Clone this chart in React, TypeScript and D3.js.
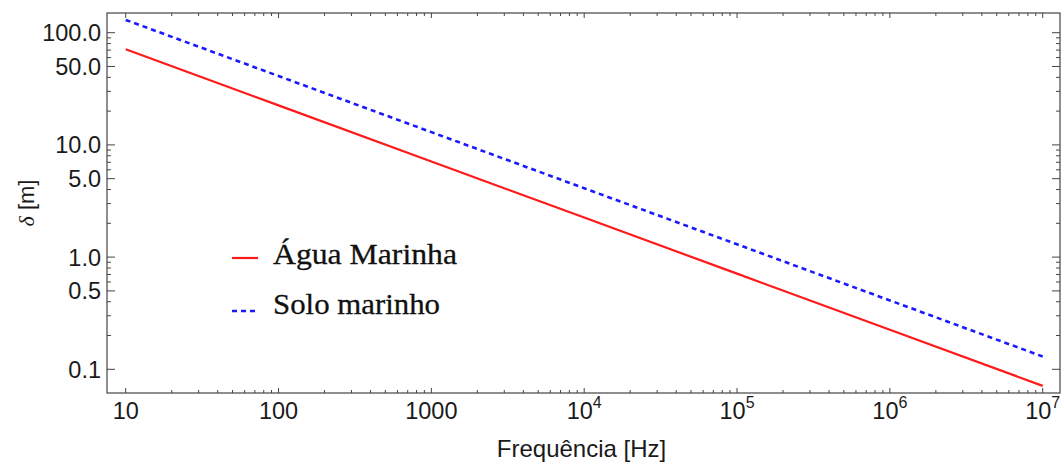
import React from "react";
import * as d3 from "d3";

const freqs = [10, 100, 1000, 1e4, 1e5, 1e6, 1e7];
const aguaMarinha = [71.2, 22.5, 7.12, 2.25, 0.712, 0.225, 0.0712];
const soloMarinho = [130, 41.1, 13.0, 4.11, 1.3, 0.411, 0.13];
const xMajor = [10, 100, 1000, 1e4, 1e5, 1e6, 1e7];
const yMajor = [100, 50, 10, 5, 1, 0.5, 0.1];
const yLabels = ["100.0", "50.0", "10.0", "5.0", "1.0", "0.5", "0.1"];
const seriesNames = ["Água Marinha", "Solo marinho"];

const W = 1064, H = 467;
const L = 107, R = 1060, T = 13, B = 393;

export default function App() {
  const x = d3.scaleLog().domain([10, 1e7]).range([125.7, 1042.7]);
  const y = d3.scaleLog().domain([100, 0.1]).range([32.7, 369.3]);

  const xMinor: number[] = [];
  for (let e = 1; e < 7; e++) for (let k = 2; k <= 9; k++) xMinor.push(k * Math.pow(10, e));
  const yMinor: number[] = [];
  for (let e = -1; e < 2; e++)
    for (let k = 2; k <= 9; k++) if (k !== 5) yMinor.push(k * Math.pow(10, e));

  const line = d3
    .line<[number, number]>()
    .x((d) => x(d[0]))
    .y((d) => y(d[1]));
  const redPts = freqs.map((f, i) => [f, aguaMarinha[i]] as [number, number]);
  const bluePts = freqs.map((f, i) => [f, soloMarinho[i]] as [number, number]);

  const frame = "#444";
  const txt = "#1a1a1a";
  const sans = "'Liberation Sans', Arial, sans-serif";
  const serif = "'Liberation Serif', 'Times New Roman', serif";

  const xLabel = (v: number) => {
    const e = Math.round(Math.log10(v));
    if (e <= 3) return <tspan>{String(v)}</tspan>;
    return (
      <>
        <tspan>10</tspan>
        <tspan dy={-11} fontSize={16}>{e}</tspan>
      </>
    );
  };

  return (
    <svg width={W} height={H} style={{ position: "absolute", left: 0, top: 0, background: "#fff" }}>
      <rect x={0} y={0} width={W} height={H} fill="#fff" />
      <defs>
        <clipPath id="clip">
          <rect x={L} y={T} width={R - L} height={B - T} />
        </clipPath>
      </defs>
      {/* lines */}
      <g clipPath="url(#clip)">
        <path d={line(redPts) || ""} fill="none" stroke="#ff1a1a" strokeWidth={2.2} />
        <path d={line(bluePts) || ""} fill="none" stroke="#1a1aff" strokeWidth={2.6} strokeDasharray="5,4" />
      </g>
      {/* frame */}
      <rect x={L} y={T} width={R - L} height={B - T} fill="none" stroke={frame} strokeWidth={1.2} />
      {/* x ticks */}
      {xMajor.map((v) => (
        <g key={"xM" + v}>
          <line x1={x(v)} x2={x(v)} y1={B} y2={B - 5} stroke={frame} strokeWidth={1} />
          <line x1={x(v)} x2={x(v)} y1={T} y2={T + 5} stroke={frame} strokeWidth={1} />
        </g>
      ))}
      {xMinor.map((v) => (
        <g key={"xm" + v}>
          <line x1={x(v)} x2={x(v)} y1={B} y2={B - 3} stroke={frame} strokeWidth={1} />
          <line x1={x(v)} x2={x(v)} y1={T} y2={T + 3} stroke={frame} strokeWidth={1} />
        </g>
      ))}
      {/* y ticks */}
      {yMajor.map((v) => (
        <g key={"yM" + v}>
          <line x1={L} x2={L + 8} y1={y(v)} y2={y(v)} stroke={frame} strokeWidth={1} />
          <line x1={R} x2={R - 8} y1={y(v)} y2={y(v)} stroke={frame} strokeWidth={1} />
        </g>
      ))}
      {yMinor.map((v) => (
        <g key={"ym" + v}>
          <line x1={L} x2={L + 4} y1={y(v)} y2={y(v)} stroke={frame} strokeWidth={1} />
          <line x1={R} x2={R - 4} y1={y(v)} y2={y(v)} stroke={frame} strokeWidth={1} />
        </g>
      ))}
      {/* x tick labels */}
      {xMajor.map((v) => (
        <text
          key={"xl" + v}
          x={x(v)}
          y={419}
          textAnchor="middle"
          fontFamily={sans}
          fontSize={23.5}
          fill={txt}
        >
          {xLabel(v)}
        </text>
      ))}
      {/* y tick labels */}
      {yMajor.map((v, i) => (
        <text
          key={"yl" + v}
          x={101}
          y={y(v)}
          dy="0.36em"
          textAnchor="end"
          fontFamily={sans}
          fontSize={23.5}
          fill={txt}
        >
          {yLabels[i]}
        </text>
      ))}
      {/* axis titles */}
      <text x={581.5} y={457} textAnchor="middle" fontFamily={sans} fontSize={24} fill={txt}>
        Frequência [Hz]
      </text>
      <text
        transform="translate(34,203) rotate(-90)"
        textAnchor="middle"
        fontFamily={sans}
        fontSize={22}
        fill={txt}
      >
        <tspan fontStyle="italic" fontFamily={serif}>δ</tspan> [m]
      </text>
      {/* legend */}
      <line x1={232} x2={258} y1={258} y2={258} stroke="#ff1a1a" strokeWidth={2.2} />
      <line x1={232} x2={259} y1={311} y2={311} stroke="#1a1aff" strokeWidth={2.6} strokeDasharray="5,4" />
      <text x={273} y={264} fontFamily={serif} fontSize={30} fill="#111" stroke="#111" strokeWidth={0.3} textLength={184} lengthAdjust="spacingAndGlyphs">
        {seriesNames[0]}
      </text>
      <text x={273} y={314} fontFamily={serif} fontSize={30} fill="#111" stroke="#111" strokeWidth={0.3} textLength={167} lengthAdjust="spacingAndGlyphs">
        {seriesNames[1]}
      </text>
    </svg>
  );
}
